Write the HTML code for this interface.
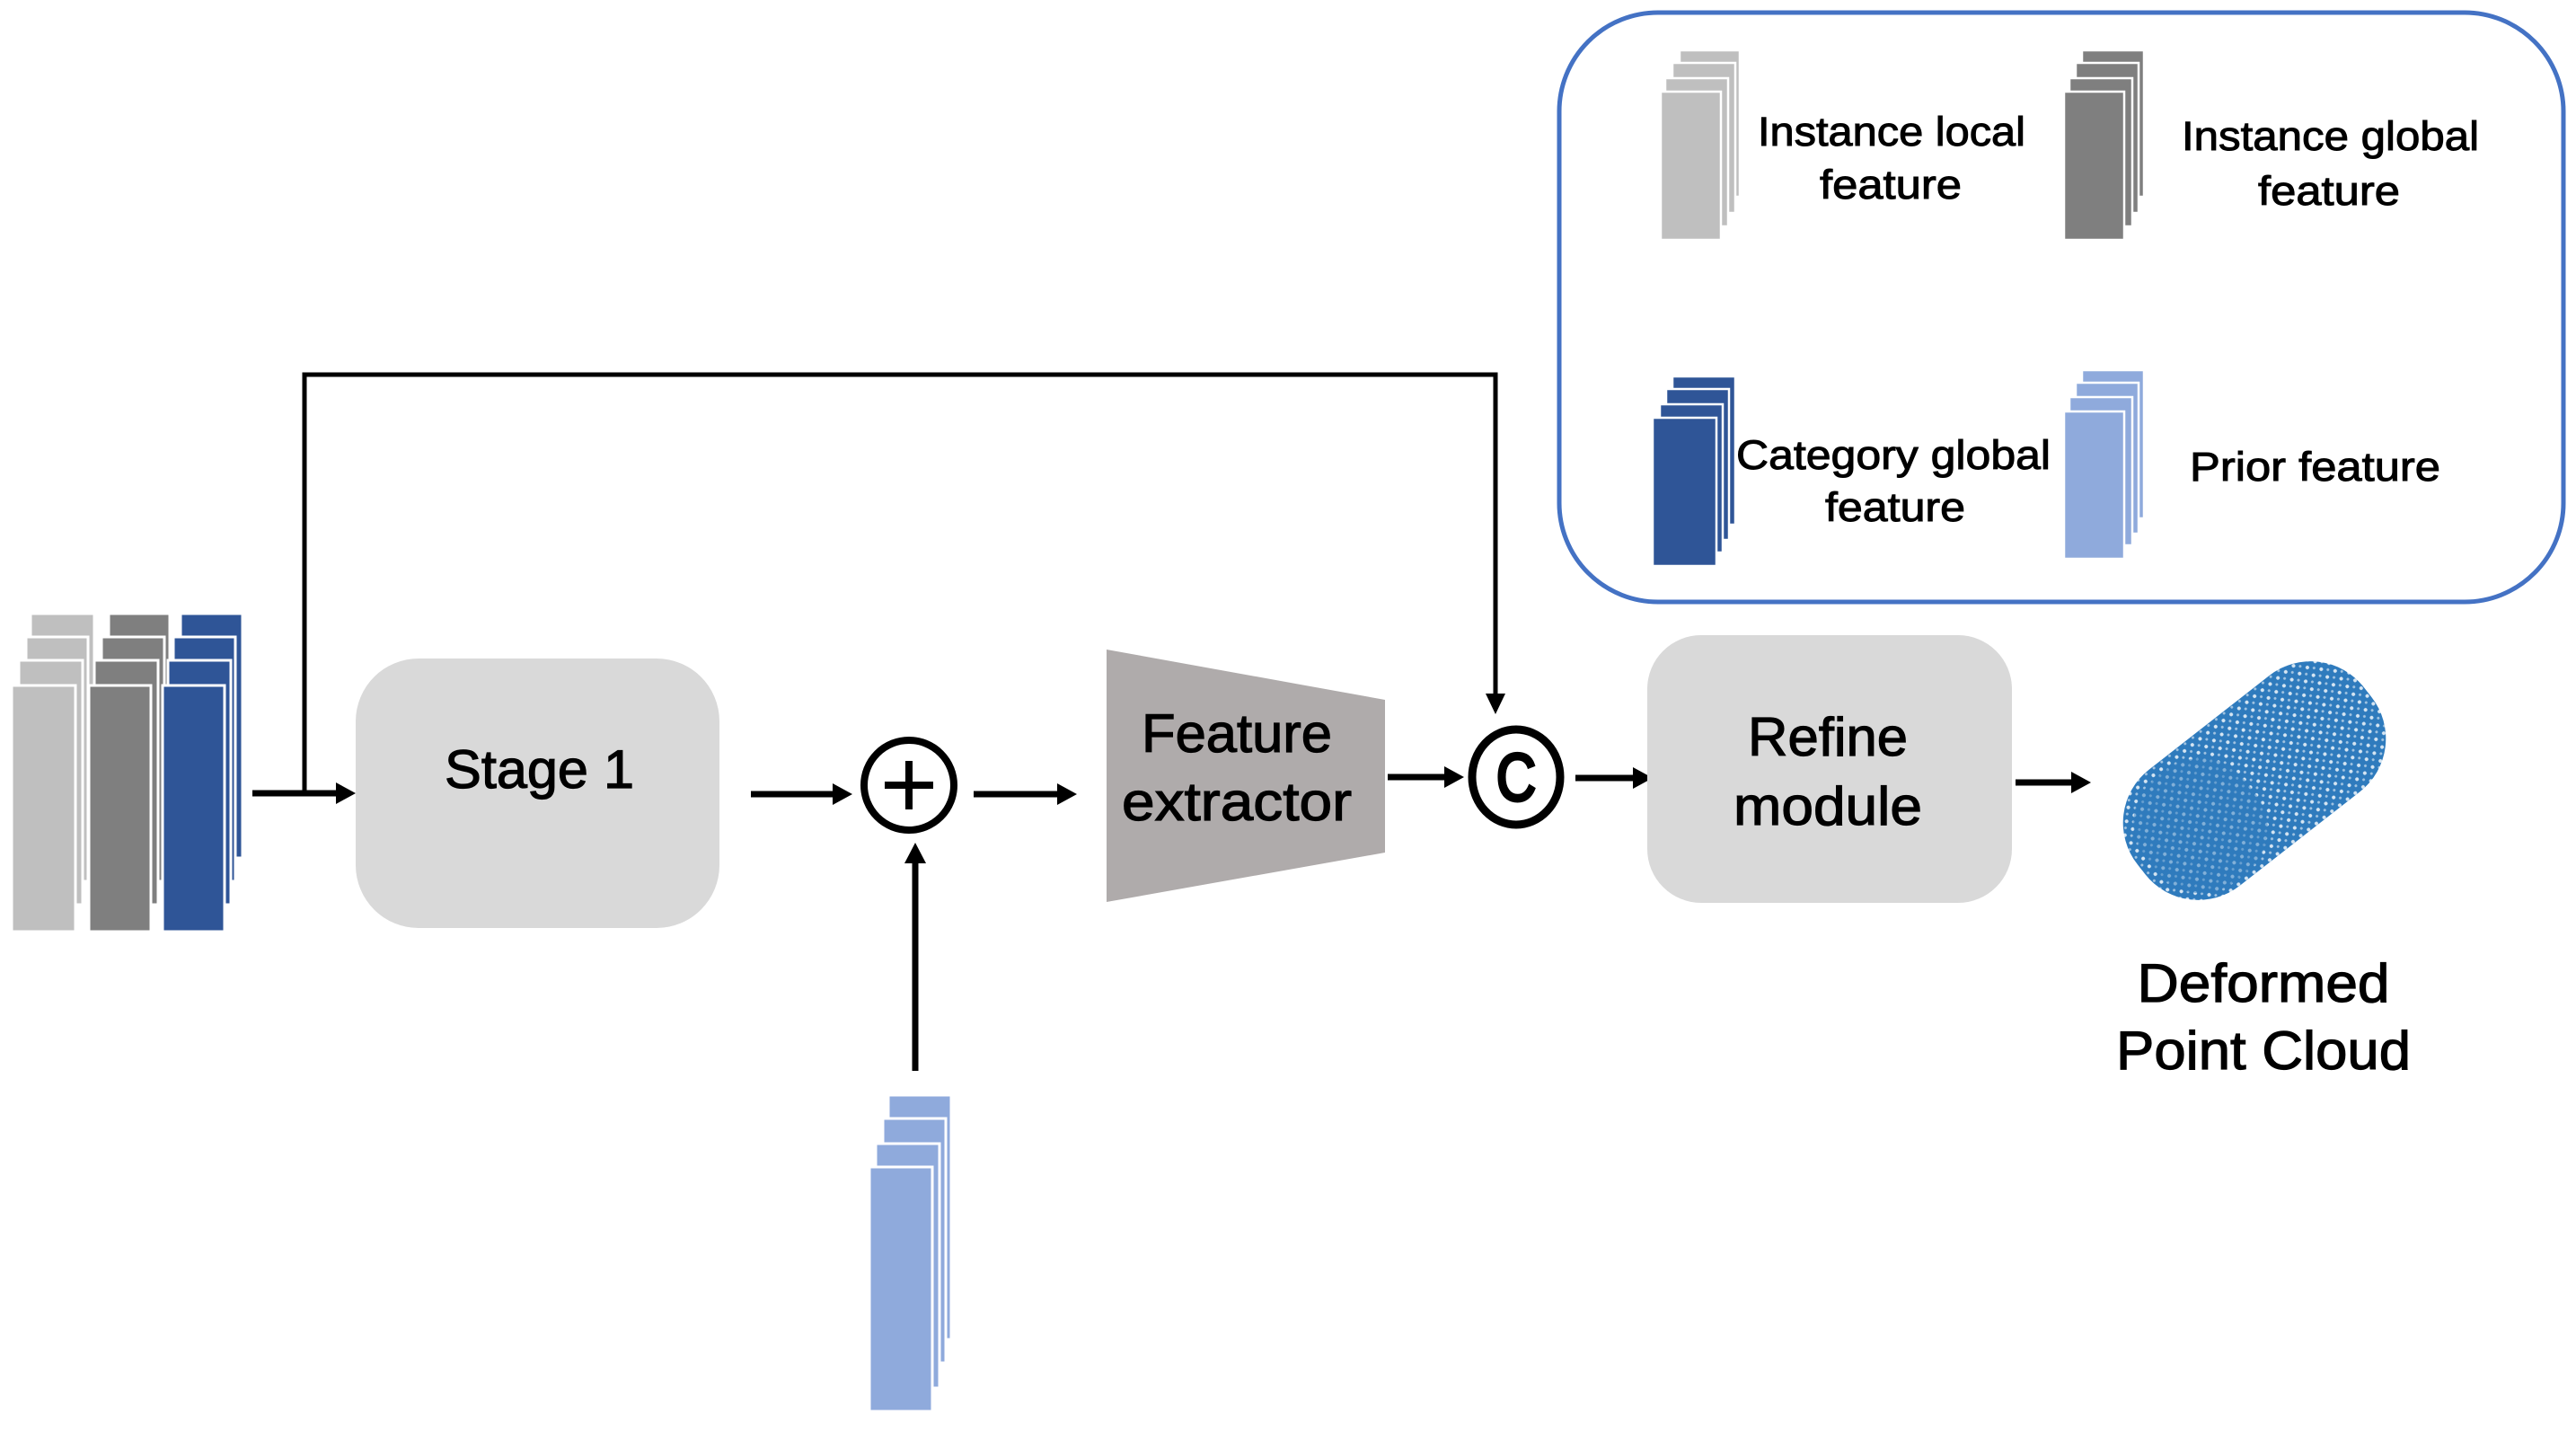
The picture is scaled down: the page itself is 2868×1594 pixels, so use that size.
<!DOCTYPE html>
<html><head><meta charset="utf-8"><style>html,body{margin:0;padding:0;background:#fff}svg{display:block}</style></head>
<body>
<svg width="2868" height="1594" viewBox="0 0 2868 1594" xmlns="http://www.w3.org/2000/svg" font-family="Liberation Sans, sans-serif">
<defs>
<pattern id="dots" width="11" height="11" patternUnits="userSpaceOnUse">
<rect width="11" height="11" fill="#2f7bbd"/>
<circle cx="3" cy="3" r="2" fill="#fff" opacity="0.8"/>
<circle cx="8.5" cy="8" r="1.5" fill="#fff" opacity="0.55"/>
</pattern>
</defs>
<rect width="2868" height="1594" fill="#fff"/>

<g stroke="#fff" stroke-width="3">
<rect x="34" y="683" width="71" height="272" fill="#bfbfbf"/>
<rect x="29" y="709" width="69" height="272" fill="#bfbfbf"/>
<rect x="21" y="735" width="71" height="272" fill="#bfbfbf"/>
<rect x="13" y="763" width="71" height="274" fill="#bfbfbf"/>
<rect x="121" y="683" width="68" height="272" fill="#7f7f7f"/>
<rect x="113" y="709" width="70" height="272" fill="#7f7f7f"/>
<rect x="105" y="735" width="71" height="272" fill="#7f7f7f"/>
<rect x="99" y="763" width="69" height="274" fill="#7f7f7f"/>
<rect x="201" y="683" width="69" height="272" fill="#2f5597"/>
<rect x="193" y="709" width="69" height="272" fill="#2f5597"/>
<rect x="187" y="735" width="70" height="272" fill="#2f5597"/>
<rect x="181" y="763" width="69" height="274" fill="#2f5597"/>
</g>

<g stroke="#000" fill="none">
<line x1="281" y1="883" x2="378" y2="883" stroke-width="7"/>
<polyline points="339,883 339,417 1665,417 1665,775" stroke-width="5"/>
<line x1="836" y1="884" x2="930" y2="884" stroke-width="7"/>
<line x1="1084" y1="884" x2="1180" y2="884" stroke-width="7"/>
<line x1="1019" y1="1192" x2="1019" y2="958" stroke-width="7"/>
<line x1="1545" y1="865" x2="1612" y2="865" stroke-width="7"/>
<line x1="1754" y1="866" x2="1822" y2="866" stroke-width="7"/>
<line x1="2244" y1="871" x2="2310" y2="871" stroke-width="7"/>
</g>
<g fill="#000">
<polygon points="396,883 374,871 374,895"/>
<polygon points="1665,795 1654,772 1676,772"/>
<polygon points="949,884 927,872 927,896"/>
<polygon points="1199,884 1177,872 1177,896"/>
<polygon points="1019,938 1007,961 1031,961"/>
<polygon points="1630,865 1608,853 1608,877"/>
<polygon points="1840,866 1818,854 1818,878"/>
<polygon points="2328,871 2306,859 2306,883"/>
</g>

<g stroke="#000" stroke-width="1.2">
<rect x="396" y="733" width="405" height="300" rx="70" fill="#d9d9d9" stroke="none"/>
<text x="495" y="877" font-size="60" textLength="211" lengthAdjust="spacingAndGlyphs">Stage 1</text>
</g>

<circle cx="1012" cy="874" r="50" fill="#fff" stroke="#000" stroke-width="8"/>
<line x1="985" y1="874" x2="1039" y2="874" stroke="#000" stroke-width="8"/>
<line x1="1012" y1="847" x2="1012" y2="901" stroke="#000" stroke-width="8"/>

<g stroke="#fff" stroke-width="3" fill="#8faadc">
<rect x="989" y="1219" width="70" height="272"/>
<rect x="983" y="1245" width="70" height="272"/>
<rect x="975" y="1273" width="71" height="272"/>
<rect x="968" y="1299" width="70" height="272"/>
</g>

<polygon points="1232,723 1542,779 1542,949 1232,1004" fill="#afabab"/>
<g stroke="#000" stroke-width="1.2">
<text x="1271" y="837" font-size="60" textLength="212" lengthAdjust="spacingAndGlyphs">Feature</text>
<text x="1249" y="913" font-size="60" textLength="256" lengthAdjust="spacingAndGlyphs">extractor</text>
</g>

<ellipse cx="1688" cy="865" rx="49" ry="53" fill="#fff" stroke="#000" stroke-width="9"/>
<text x="1688" y="891" font-size="74" text-anchor="middle" textLength="44" lengthAdjust="spacingAndGlyphs" stroke="#000" stroke-width="4">C</text>

<rect x="1834" y="707" width="406" height="298" rx="60" fill="#d9d9d9"/>
<g stroke="#000" stroke-width="1.2">
<text x="2035" y="841" font-size="60" text-anchor="middle" textLength="178" lengthAdjust="spacingAndGlyphs">Refine</text>
<text x="2035" y="918" font-size="60" text-anchor="middle" textLength="210" lengthAdjust="spacingAndGlyphs">module</text>
</g>

<g transform="translate(2510 869) rotate(-38)">
<rect x="-160" y="-82" width="320" height="164" rx="75" fill="url(#dots)"/>
<rect x="-148" y="-70" width="140" height="145" rx="62" fill="#2f7bbd" opacity="0.5"/>
</g>

<g stroke="#000" stroke-width="1.2">
<text x="2520" y="1115" font-size="60" text-anchor="middle" textLength="281" lengthAdjust="spacingAndGlyphs">Deformed</text>
<text x="2520" y="1190" font-size="60" text-anchor="middle" textLength="328" lengthAdjust="spacingAndGlyphs">Point Cloud</text>
</g>

<rect x="1736" y="14" width="1118" height="656" rx="110" fill="none" stroke="#4472c4" stroke-width="5"/>
<g stroke="#fff" stroke-width="2.5">
<rect x="1870" y="56" width="67" height="163" fill="#bfbfbf"/>
<rect x="1862" y="70" width="70" height="167" fill="#bfbfbf"/>
<rect x="1854" y="87" width="70" height="165" fill="#bfbfbf"/>
<rect x="1849" y="102" width="67" height="165" fill="#bfbfbf"/>
<rect x="2318" y="56" width="69" height="163" fill="#7f7f7f"/>
<rect x="2311" y="70" width="70" height="167" fill="#7f7f7f"/>
<rect x="2304" y="87" width="70" height="165" fill="#7f7f7f"/>
<rect x="2298" y="102" width="67" height="165" fill="#7f7f7f"/>
<rect x="1862" y="419" width="70" height="165" fill="#2f5597"/>
<rect x="1855" y="433" width="70" height="168" fill="#2f5597"/>
<rect x="1848" y="450" width="70" height="165" fill="#2f5597"/>
<rect x="1840" y="465" width="71" height="165" fill="#2f5597"/>
<rect x="2318" y="412" width="69" height="165" fill="#8faadc"/>
<rect x="2311" y="426" width="70" height="168" fill="#8faadc"/>
<rect x="2304" y="442" width="70" height="165" fill="#8faadc"/>
<rect x="2298" y="458" width="67" height="164" fill="#8faadc"/>
</g>
<g font-size="45" stroke="#000" stroke-width="1">
<text x="1957" y="162" textLength="298" lengthAdjust="spacingAndGlyphs">Instance local</text>
<text x="2026" y="221" textLength="158" lengthAdjust="spacingAndGlyphs">feature</text>
<text x="2429" y="167" textLength="331" lengthAdjust="spacingAndGlyphs">Instance global</text>
<text x="2514" y="228" textLength="158" lengthAdjust="spacingAndGlyphs">feature</text>
<text x="1933" y="522" textLength="350" lengthAdjust="spacingAndGlyphs">Category global</text>
<text x="2032" y="580" textLength="156" lengthAdjust="spacingAndGlyphs">feature</text>
<text x="2438" y="535" textLength="279" lengthAdjust="spacingAndGlyphs">Prior feature</text>
</g>
</svg>
</body></html>
